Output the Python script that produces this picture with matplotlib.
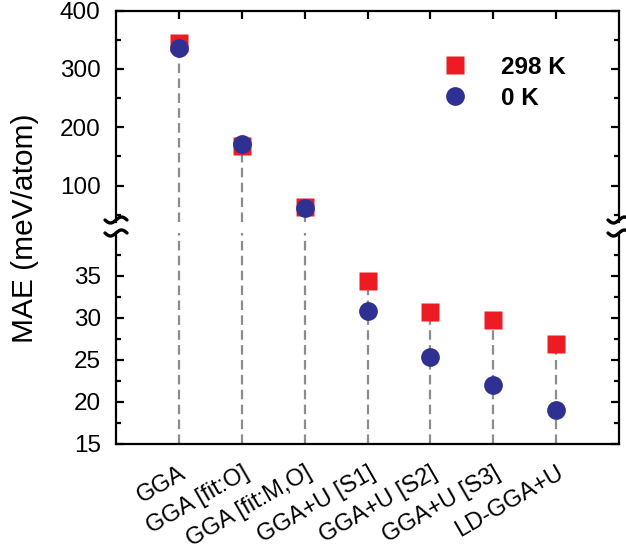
import matplotlib
matplotlib.use("Agg")
import matplotlib.pyplot as plt
import numpy as np
from matplotlib.lines import Line2D
from matplotlib.ticker import FixedLocator

plt.rcParams['font.family'] = ['Liberation Sans', 'DejaVu Sans']

categories = ["GGA", "GGA [fit:O]", "GGA [fit:M,O]", "GGA+U [S1]",
              "GGA+U [S2]", "GGA+U [S3]", "LD-GGA+U"]
mae_298K = [345, 167, 64, 34.4, 30.75, 29.8, 26.95]
mae_0K = [335, 171, 62, 30.8, 25.4, 22.0, 19.1]
top_major = [100, 200, 300, 400]
top_minor = [50, 150, 250, 350]
bot_major = [15, 20, 25, 30, 35]
bot_minor = [17.5, 22.5, 27.5, 32.5, 37.5]

RED = "#ED1C24"
BLUE = "#2E3192"
GREY = "#8C8C8C"

W, H = 626, 554
fig = plt.figure(figsize=(W / 100, H / 100), dpi=100)


def fr(x0, y0, x1, y1):
    return [x0 / W, 1 - y1 / H, (x1 - x0) / W, (y1 - y0) / H]


ax_top = fig.add_axes(fr(116, 10.5, 619, 222))
ax_bot = fig.add_axes(fr(116, 233, 619, 444))

x = np.arange(1, len(categories) + 1)
v298 = np.array(mae_298K)
v0 = np.array(mae_0K)
hi = np.maximum(v298, v0)
top_lo, top_hi = 37.5, 400
bot_lo, bot_hi = 15, 40.1

ms = 13.5
dash = (0, (4.3, 2.4))
for ax, lo, up in [(ax_top, top_lo, top_hi), (ax_bot, bot_lo, bot_hi)]:
    ax.set_xlim(0, 8)
    ax.set_ylim(lo, up)
    mask = hi > lo
    ax.vlines(x[mask], lo, np.minimum(hi[mask], up), colors=GREY,
              linewidth=1.6, linestyles=dash, zorder=1)
    m1 = (v298 >= lo) & (v298 <= up)
    m0 = (v0 >= lo) & (v0 <= up)
    ax.plot(x[m1], v298[m1], 's', color=RED, ms=ms, mec='none', zorder=3,
            label="298 K")
    ax.plot(x[m0], v0[m0], 'o', color=BLUE, ms=ms, mec='none', zorder=4,
            label="0 K")
    for s in ax.spines.values():
        s.set_linewidth(1.6)
    ax.tick_params(axis='y', which='both', direction='in', left=True,
                   right=True, width=1.6, labelsize=17.5, pad=11)
    ax.tick_params(axis='y', which='major', length=6)
    ax.tick_params(axis='y', which='minor', length=3.8)

ax_top.spines['bottom'].set_visible(False)
ax_bot.spines['top'].set_visible(False)

ax_top.yaxis.set_major_locator(FixedLocator(top_major))
ax_top.yaxis.set_minor_locator(FixedLocator(top_minor))
ax_bot.yaxis.set_major_locator(FixedLocator(bot_major))
ax_bot.yaxis.set_minor_locator(FixedLocator(bot_minor))

ax_top.set_xticks(x)
ax_top.tick_params(axis='x', which='both', direction='in', top=True,
                   bottom=False, labeltop=False, labelbottom=False,
                   length=6, width=1.6)
ax_top.xaxis.set_minor_locator(FixedLocator([]))

ax_bot.set_xticks(x)
ax_bot.set_xticklabels(categories, rotation=30, ha='right',
                       rotation_mode='anchor', fontsize=17)
ax_bot.tick_params(axis='x', which='both', top=False, bottom=True,
                   length=0, pad=13)

fig.text(25 / W, 1 - 228 / H, "MAE (meV/atom)", rotation=90,
         ha='center', va='center', fontsize=21.5)

# break marks on both spines
for xs in (116, 619):
    for yc in (220, 233):
        t = np.linspace(-1, 1, 40)
        xx = xs + 11 * t
        yy = yc - 3 * np.sin(np.pi * t)
        fig.add_artist(Line2D(xx / W, 1 - yy / H, color='black', lw=2.4,
                              transform=fig.transFigure, solid_capstyle='round'))

leg = ax_top.legend(loc='upper left', bbox_to_anchor=(443 / W, 1 - 56 / H),
                    bbox_transform=fig.transFigure, frameon=False,
                    borderpad=0, borderaxespad=0, handlelength=1.0,
                    handletextpad=1.4, labelspacing=0.32,
                    prop={'weight': 'bold', 'size': 17.5})

fig.savefig("out.png", dpi=100)
